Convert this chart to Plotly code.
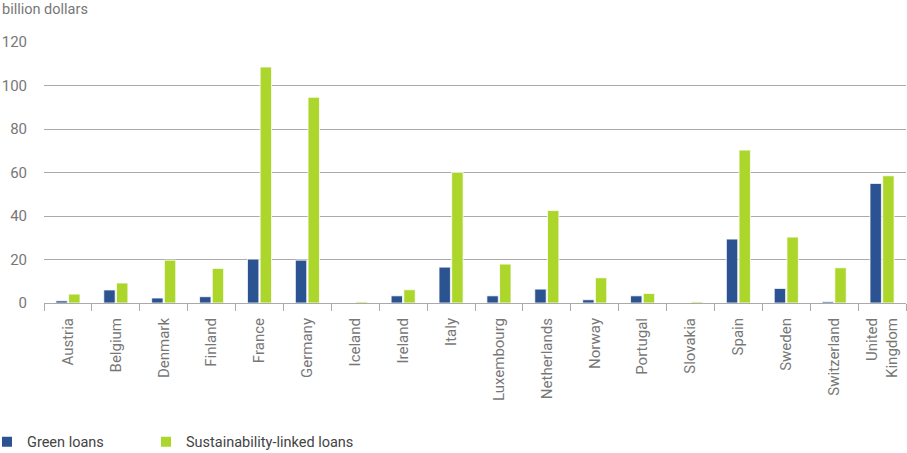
import plotly.graph_objects as go

countries = ["Austria", "Belgium", "Denmark", "Finland", "France", "Germany", "Iceland",
             "Ireland", "Italy", "Luxembourg", "Netherlands", "Norway", "Portugal",
             "Slovakia", "Spain", "Sweden", "Switzerland", "United<br>Kingdom"]
green_loans = [1.0, 6.0, 2.3, 2.9, 20.2, 19.7, 0.0, 3.3, 16.5, 3.3, 6.4, 1.5, 3.3,
               0.0, 29.4, 6.7, 0.6, 55.0]
sll_loans = [4.1, 9.2, 19.7, 15.9, 108.5, 94.6, 0.5, 6.1, 60.1, 17.9, 42.5, 11.6, 4.4,
             0.5, 70.3, 30.3, 16.2, 58.5]
y_ticks = [0, 20, 40, 60, 80, 100, 120]

FONT = "Roboto"
GRAY = "#777777"

fig = go.Figure()
fig.add_trace(go.Bar(x=countries, y=green_loans, name="Green loans", legend="legend",
                     marker=dict(color="#2b5391", line=dict(color="white", width=0.8))))
fig.add_trace(go.Bar(x=countries, y=sll_loans, name="Sustainability-linked loans",
                     legend="legend2",
                     marker=dict(color="#acd62c", line=dict(color="white", width=0.8))))

leg_common = dict(orientation="h", xref="paper", yref="paper", y=-0.532,
                  xanchor="left", yanchor="middle",
                  font=dict(size=14.5, color="#444444"), itemsizing="constant")

fig.update_layout(
    width=907, height=453,
    margin=dict(l=44, r=1, t=42, b=150, autoexpand=False),
    paper_bgcolor="white", plot_bgcolor="white",
    barmode="group", bargap=0.47, bargroupgap=0.1,
    font=dict(family=FONT, size=15, color=GRAY),
    showlegend=True,
    legend=dict(x=-0.0661, **leg_common),
    legend2=dict(x=0.1183, **leg_common),
    xaxis=dict(showgrid=False, tickangle=-90, ticks="outside", tickson="boundaries",
               ticklen=7, tickcolor="#aaaaaa", showline=True, linecolor="#aaaaaa",
               linewidth=1, tickfont=dict(size=15, color=GRAY), automargin=False,
               ticklabelstandoff=8),
    yaxis=dict(range=[0, 120], tickvals=y_ticks, showgrid=True, gridcolor="#aaaaaa",
               gridwidth=1, zeroline=True, zerolinecolor="#aaaaaa", zerolinewidth=1,
               showline=False, ticks="", tickfont=dict(size=15, color=GRAY),
               ticklabelstandoff=16, automargin=False),
    annotations=[dict(text="billion dollars", xref="paper", yref="paper", x=0, y=1,
                      xshift=-44, yshift=22, xanchor="left", yanchor="bottom",
                      showarrow=False, font=dict(size=14.5, color=GRAY))],
)

fig.write_html("out.html")
